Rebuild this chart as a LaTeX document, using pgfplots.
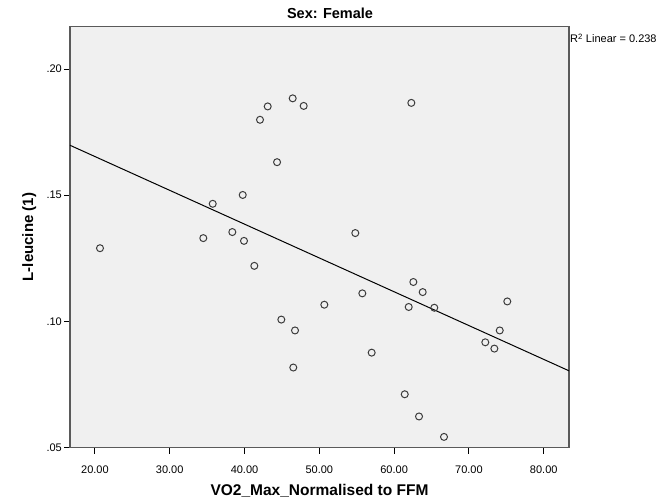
\documentclass[border=0pt]{standalone}
\usepackage{fontspec}
\setmainfont{Liberation Sans}
\usepackage{pgfplots}
\pgfplotsset{compat=1.18}
\definecolor{bgfill}{HTML}{F0F0F0}
\definecolor{frame}{HTML}{5A5A5A}
\definecolor{markc}{HTML}{3C3C3C}
\begin{document}
\begin{tikzpicture}
\useasboundingbox (0,0) rectangle (660bp,501bp);
\begin{axis}[
  at={(70bp,53.5bp)}, anchor=south west,
  width=499bp, height=420.8bp, scale only axis,
  xmin=16.67, xmax=83.38, ymin=0.05, ymax=0.2168,
  axis background/.style={fill=bgfill},
  axis line style={frame, line width=1.2bp},
  xtick={20,30,40,50,60,70,80},
  ytick={0.05,0.10,0.15,0.20},
  xtick pos=bottom, ytick pos=left,
  tick align=outside,
  major tick length=6bp,
  tick style={black, line width=1bp},
  /pgf/number format/assume math mode=true,
  xticklabel style={/pgf/number format/.cd, fixed, fixed zerofill, precision=2, /tikz/.cd,
     font=\fontsize{11bp}{13bp}\selectfont, anchor=base, yshift=-19.8bp, inner sep=0pt},
  yticklabel style={/pgf/number format/.cd, fixed, fixed zerofill, precision=2, skip 0.=true, /tikz/.cd,
     font=\fontsize{11bp}{13bp}\selectfont, anchor=east, xshift=-2bp, inner sep=0pt},
  xlabel={VO2\_Max\_Normalised to FFM},
  ylabel={L-leucine (1)},
  xlabel style={at={(axis description cs:0.5,-0.1129)}, anchor=base, font=\bfseries\fontsize{15.5bp}{18bp}\selectfont, inner sep=0pt},
  ylabel style={at={(axis description cs:-0.0741,0.5)}, anchor=base, font=\bfseries\fontsize{15bp}{18bp}\selectfont, inner sep=0pt},
  clip=false,
]
\addplot[only marks, mark=o, mark size=3.5bp, mark options={markc, line width=1bp}] coordinates {
(20.68,0.1290) (34.49,0.1330) (35.75,0.1466) (38.37,0.1354) (39.93,0.1319)
(39.76,0.1501) (41.31,0.1220) (42.07,0.1799) (43.10,0.1852) (44.35,0.1631)
(46.44,0.1884) (47.91,0.1854) (44.92,0.1007) (46.75,0.0964) (46.52,0.0817)
(62.30,0.1866) (54.81,0.1350) (50.67,0.1066) (55.75,0.1111) (57.00,0.0876)
(62.57,0.1156) (63.82,0.1116) (61.95,0.1057) (65.37,0.1054) (75.13,0.1079)
(74.12,0.0964) (72.19,0.0917) (73.40,0.0892) (61.42,0.0711) (63.33,0.0623)
(66.67,0.0542)
};
\addplot[black, line width=1bp] coordinates {(16.67,0.1698) (83.38,0.0804)};
\end{axis}
\node[anchor=base, inner sep=0pt, font=\bfseries\fontsize{14.5bp}{17bp}\selectfont] at (330bp,482.2bp) {Sex: Female};
\node[anchor=base west, inner sep=0pt, font=\fontsize{11bp}{13bp}\selectfont] at (570bp,458bp) {R\textsuperscript{2} Linear = 0.238};
\end{tikzpicture}
\end{document}
